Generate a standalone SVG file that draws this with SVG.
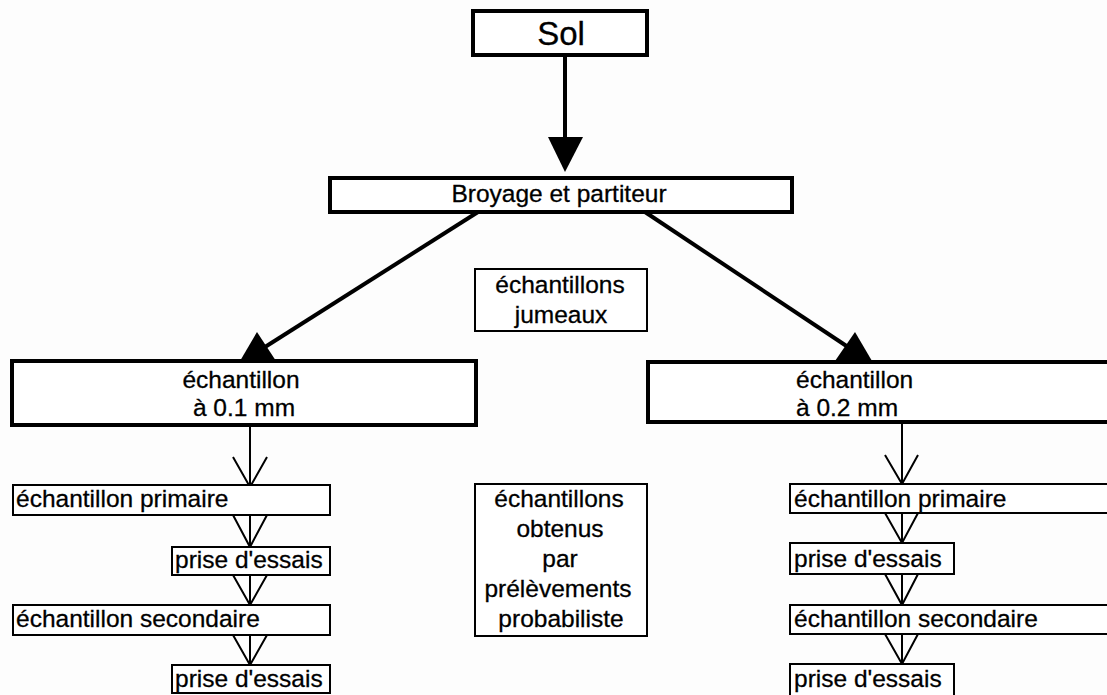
<svg xmlns="http://www.w3.org/2000/svg" width="1107" height="695" viewBox="0 0 1107 695">
<style>
.bg{fill:#fdfdfd}
.thick{fill:#fff;stroke:#000;stroke-width:4}
.thin{fill:#fff;stroke:#000;stroke-width:2}
text{font-family:"Liberation Sans",Arial,sans-serif;font-size:24.5px;fill:#000;stroke:#000;stroke-width:0.3}
.c{text-anchor:middle}
.big{font-size:33px}
.ln{fill:none;stroke:#000;stroke-width:4}
.tl{fill:none;stroke:#000;stroke-width:2}
.head{fill:#000;stroke:none}
</style>
<rect class="bg" x="0" y="0" width="1107" height="695"/>
<g id="connectors">
<line class="ln" x1="565" y1="55" x2="565" y2="140"/>
<polygon class="head" points="548,137 583,137 565,172"/>
<line class="ln" x1="478" y1="212" x2="265" y2="347"/>
<polygon class="head" points="257,332 240,361 276,361"/>
<line class="ln" x1="645" y1="212" x2="848" y2="347"/>
<polygon class="head" points="855,332 835,361 872,361"/>
<path class="tl" d="M250,425 V487 M233,457 L250,487 L267,457"/>
<path class="tl" d="M250,515 V547 M233,515 L250,547 L267,515"/>
<path class="tl" d="M250,575 V605 M233,575 L250,605 L267,575"/>
<path class="tl" d="M250,635 V665 M233,635 L250,665 L267,635"/>
<path class="tl" d="M902,422 V484 M885,455 L902,484 L918,455"/>
<path class="tl" d="M902,513 V543 M885,513 L902,543 L918,513"/>
<path class="tl" d="M902,574 V605 M885,574 L902,605 L918,574"/>
<path class="tl" d="M902,634 V664 M885,634 L902,664 L918,634"/>
</g>
<g id="sol">
<rect class="thick" x="473" y="11" width="174" height="44"/>
<text class="c big" x="561" y="45">Sol</text>
</g>
<g id="broyage">
<rect class="thick" x="330" y="178" width="462" height="34"/>
<text class="c" x="559" y="202">Broyage et partiteur</text>
</g>
<g id="jumeaux">
<rect class="thin" x="475" y="269" width="172" height="62"/>
<text class="c" x="560" y="293">échantillons</text>
<text class="c" x="561" y="323">jumeaux</text>
</g>
<g id="probabiliste">
<rect class="thin" x="475" y="484" width="172" height="152"/>
<text class="c" x="559" y="507">échantillons</text>
<text class="c" x="560" y="537">obtenus</text>
<text class="c" x="560" y="567">par</text>
<text class="c" x="558" y="597">prélèvements</text>
<text class="c" x="561" y="627">probabiliste</text>
</g>
<g id="ech01">
<rect class="thick" x="12" y="361" width="464" height="64"/>
<text class="c" x="241" y="388">échantillon</text>
<text class="c" x="244" y="416">à 0.1 mm</text>
</g>
<g id="prim01">
<rect class="thin" x="13" y="485" width="317" height="30"/>
<text x="16" y="507">échantillon primaire</text>
</g>
<g id="prise01a">
<rect class="thin" x="172" y="547" width="158" height="28"/>
<text x="175" y="568">prise d'essais</text>
</g>
<g id="sec01">
<rect class="thin" x="13" y="605" width="317" height="30"/>
<text x="16" y="627">échantillon secondaire</text>
</g>
<g id="prise01b">
<rect class="thin" x="172" y="665" width="158" height="28"/>
<text x="175" y="687">prise d'essais</text>
</g>
<g id="ech02">
<rect class="thick" x="648" y="362" width="470" height="60"/>
<text x="796" y="388">échantillon</text>
<text x="796" y="416">à 0.2 mm</text>
</g>
<g id="prim02">
<rect class="thin" x="790" y="484" width="328" height="29"/>
<text x="794" y="507">échantillon primaire</text>
</g>
<g id="prise02a">
<rect class="thin" x="790" y="543" width="164" height="31"/>
<text x="794" y="567">prise d'essais</text>
</g>
<g id="sec02">
<rect class="thin" x="790" y="605" width="328" height="29"/>
<text x="794" y="627">échantillon secondaire</text>
</g>
<g id="prise02b">
<rect class="thin" x="790" y="664" width="164" height="32"/>
<text x="794" y="687">prise d'essais</text>
</g>
</svg>
